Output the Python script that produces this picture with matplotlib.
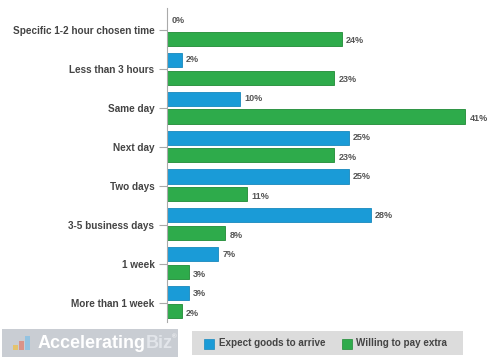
import matplotlib.pyplot as plt
from matplotlib.patches import Rectangle
import numpy as np

plt.rcParams['font.family'] = ['Liberation Sans', 'DejaVu Sans']

categories = ['Specific 1-2 hour chosen time', 'Less than 3 hours', 'Same day',
              'Next day', 'Two days', '3-5 business days', '1 week', 'More than 1 week']
expect = [0, 2, 10, 25, 25, 28, 7, 3]
willing = [24, 23, 41, 23, 11, 8, 3, 2]

blue = '#1a9bd7'
green = '#2eab4b'
txt = '#444444'

fig = plt.figure(figsize=(5, 3.58), dpi=100)
ax = fig.add_axes([0.334, 0.1006, 0.646, 0.877])

y = np.arange(len(categories))
h = 0.36
ax.barh(y - 0.235, expect, height=h, color=blue, edgecolor='#1788bd', linewidth=0.6)
ax.barh(y + 0.225, willing, height=h, color=green, edgecolor='#1f8a35', linewidth=0.6)

for yi, v in zip(y, expect):
    ax.text(v + 0.6, yi - 0.235, f'{v}%', va='center', ha='left', fontsize=6.5,
            color='#555555', fontweight='bold')
for yi, v in zip(y, willing):
    ax.text(v + 0.6, yi + 0.225 + 0.05, f'{v}%', va='center', ha='left', fontsize=6.5,
            color='#555555', fontweight='bold')

ax.set_xlim(0, 44.4)
ax.set_ylim(7.5, -0.56)
ax.set_yticks(y)
ax.set_yticklabels(categories, fontsize=7.2, fontweight='bold', color=txt)
ax.set_xticks([])
for s in ['top', 'right', 'bottom']:
    ax.spines[s].set_visible(False)
ax.spines['left'].set_color('#aaaaaa')
ax.tick_params(axis='y', length=6, color='#aaaaaa', pad=3)

# logo box
fig.patches.append(Rectangle((2 / 500, 1 - 357 / 358), 176 / 500, 28 / 358,
                             transform=fig.transFigure, facecolor='#c9cdd3', edgecolor='none'))
for i, (hh, c) in enumerate([(5, '#f0c040'), (9, '#e07b6a'), (14, '#7cc0e8')]):
    fig.patches.append(Rectangle(((13 + i * 6) / 500, 1 - 350 / 358), 5 / 500, hh / 358,
                                 transform=fig.transFigure, facecolor=c, edgecolor='none', alpha=0.7))
fig.text(38 / 500, 1 - 343 / 358, 'Accelerating', fontsize=13, fontweight='bold',
         color='white', va='center', ha='left')
fig.text(146 / 500, 1 - 343 / 358, 'Biz', fontsize=13, fontweight='bold',
         color='#e2e5ea', va='center', ha='left')
fig.text(172 / 500, 1 - 337 / 358, '®', fontsize=4.5, color='white', va='center', ha='left')

# legend box
fig.patches.append(Rectangle((192 / 500, 1 - 355 / 358), 271 / 500, 24 / 358,
                             transform=fig.transFigure, facecolor='#dcdcdc', edgecolor='none'))
fig.patches.append(Rectangle((204 / 500, 1 - 349 / 358), 10 / 500, 10 / 358,
                             transform=fig.transFigure, facecolor=blue, edgecolor='#1788bd', lw=0.5))
fig.text(219 / 500, 1 - 343 / 358, 'Expect goods to arrive', fontsize=7.1, fontweight='bold',
         color=txt, va='center', ha='left')
fig.patches.append(Rectangle((342 / 500, 1 - 349 / 358), 10 / 500, 10 / 358,
                             transform=fig.transFigure, facecolor=green, edgecolor='#1f8a35', lw=0.5))
fig.text(356 / 500, 1 - 343 / 358, 'Willing to pay extra', fontsize=7.1, fontweight='bold',
         color=txt, va='center', ha='left')

fig.savefig('out.png', dpi=100)
